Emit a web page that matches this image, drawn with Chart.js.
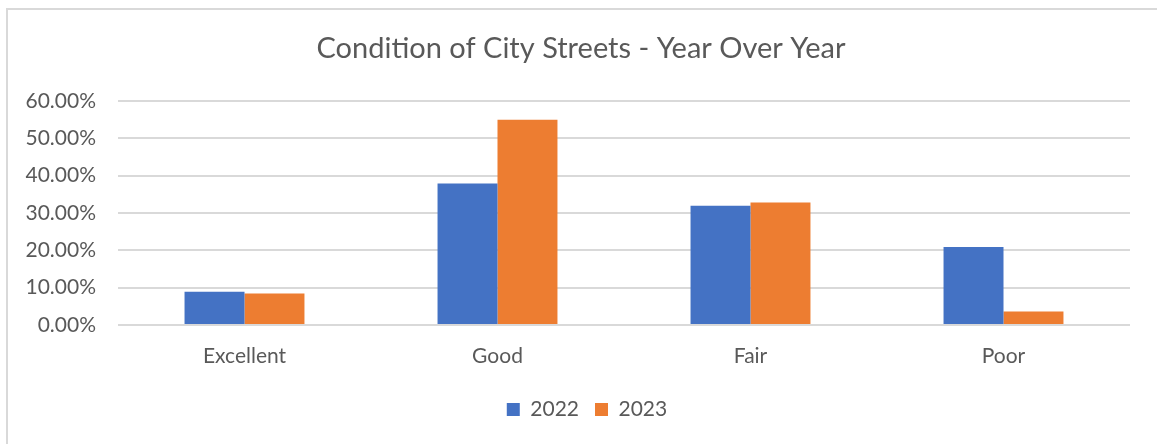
<!DOCTYPE html>
<html>
<head>
<meta charset="utf-8">
<script src="https://cdn.jsdelivr.net/npm/chart.js@4.4.1/dist/chart.umd.min.js"></script>
<style>
  html, body { margin: 0; padding: 0; background: #fff; }
  #frame {
    position: absolute; left: 6px; top: 8px;
    width: 1200px; height: 500px;
    border: 2px solid #d9d9d9; box-sizing: border-box;
  }
  #wrap { position: absolute; left: 0; top: 0; width: 1157px; height: 444px; }
</style>
</head>
<body>
<div id="frame"></div>
<div id="wrap"><canvas id="chart-streets"></canvas></div>
<script>
  // chart data
  var categories = ['Excellent', 'Good', 'Fair', 'Poor'];
  var seriesNames = ['2022', '2023'];
  var values2022 = [0.089, 0.379, 0.319, 0.209];
  var values2023 = [0.084, 0.549, 0.328, 0.036];
  var yTicks = [0, 0.1, 0.2, 0.3, 0.4, 0.5, 0.6];

  var colors = {
    blue: '#4472c4',
    orange: '#ed7d31',
    text: '#595959',
    grid: '#d9d9d9'
  };
  var fontFamily = 'Lato, "Open Sans", sans-serif';

  // the excel frame centres title and legend on the whole chart box,
  // not on the plot, so nudge them a little to the right
  var centerOnFrame = {
    id: 'centerOnFrame',
    afterLayout: function (chart) {
      if (chart.titleBlock) {
        chart.titleBlock.left += 16;
        chart.titleBlock.right += 16;
      }
      if (chart.legend) {
        chart.legend.left += 22;
        chart.legend.right += 22;
      }
    }
  };

  (function () {
    'use strict';

    var ctx = document.getElementById('chart-streets');
    new Chart(ctx, {
      type: 'bar',
      data: {
        labels: categories,
        datasets: [{
          label: seriesNames[0],
          data: values2022,
          backgroundColor: colors.blue,
          categoryPercentage: 0.474,
          barPercentage: 1
        }, {
          label: seriesNames[1],
          data: values2023,
          backgroundColor: colors.orange,
          categoryPercentage: 0.474,
          barPercentage: 1
        }]
      },
      plugins: [centerOnFrame],
      options: {
        responsive: true,
        maintainAspectRatio: false,
        animation: false,
        layout: { padding: { left: 0, right: 27, top: 22, bottom: 14 } },
        plugins: {
          title: {
            display: true,
            text: 'Condition of City Streets - Year Over Year',
            color: colors.text,
            font: { family: fontFamily, size: 29, weight: 'normal' },
            padding: { top: 9, bottom: 35 }
          },
          legend: {
            position: 'bottom',
            labels: {
              color: colors.text,
              font: { family: fontFamily, size: 21 },
              boxWidth: 13,
              boxHeight: 13,
              padding: 16
            }
          },
          tooltip: { enabled: false }
        },
        scales: {
          x: {
            afterFit: function (scale) { scale.height = 58; },
            grid: { display: false, drawTicks: false },
            border: { display: false },
            ticks: {
              color: colors.text,
              font: { family: fontFamily, size: 21, lineHeight: 0.8 },
              padding: 23
            }
          },
          y: {
            min: yTicks[0],
            max: yTicks[yTicks.length - 1],
            afterFit: function (scale) { scale.width = 118; },
            grid: { color: colors.grid, lineWidth: 2, drawTicks: false },
            border: { display: false },
            ticks: {
              stepSize: yTicks[1] - yTicks[0],
              color: colors.text,
              font: { family: fontFamily, size: 21 },
              padding: 22,
              callback: function (v) { return (v * 100).toFixed(2) + '%'; }
            }
          }
        }
      }
    });
  })();
</script>
</body>
</html>
